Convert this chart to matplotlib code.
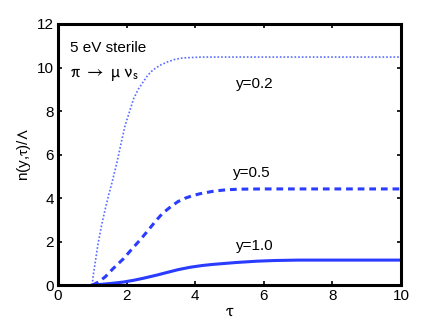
import numpy as np
import matplotlib
matplotlib.use("Agg")
import matplotlib.pyplot as plt

plt.rcParams['font.family'] = ['Liberation Sans', 'DejaVu Sans']
plt.rcParams['mathtext.fontset'] = 'stixsans'

# curves, tau vs n(y,tau)/Lambda
tau_02 = [1.0, 1.02, 1.1, 1.17, 1.27, 1.37, 1.47, 1.57, 1.65, 1.72, 1.85, 1.95, 2.08,
          2.2, 2.34, 2.48, 2.62, 2.77, 2.97, 3.18, 3.4, 3.64, 4.2, 10.0]
n_02 = [0.0, 0.37, 1.2, 1.93, 2.75, 3.45, 4.1, 4.69, 5.2, 5.65, 6.6, 7.3, 7.95,
        8.55, 9.0, 9.33, 9.65, 9.89, 10.1, 10.25, 10.37, 10.44, 10.48, 10.48]

tau_05 = [1.0, 1.15, 1.37, 1.6, 1.9, 2.15, 2.39, 2.62, 2.85, 3.05, 3.3, 3.5, 3.7,
          3.9, 4.14, 4.55, 4.9, 5.3, 6.0, 10.0]
n_05 = [0.0, 0.12, 0.37, 0.75, 1.2, 1.65, 2.07, 2.5, 2.95, 3.3, 3.62, 3.84, 3.99,
        4.1, 4.2, 4.32, 4.38, 4.41, 4.42, 4.42]

tau_10 = [1.0, 1.22, 1.5, 1.9, 2.2, 2.5, 2.88, 3.2, 3.5, 3.85, 4.2, 4.5, 4.81,
          5.2, 5.8, 6.3, 7.0, 10.0]
n_10 = [0.0, 0.03, 0.07, 0.14, 0.22, 0.32, 0.46, 0.59, 0.71, 0.82, 0.9, 0.95, 0.99,
        1.04, 1.1, 1.13, 1.15, 1.15]

labels = ['y=0.2', 'y=0.5', 'y=1.0']

fig = plt.figure(figsize=(4.43, 3.24), dpi=100)
ax = fig.add_axes([0.131, 0.12, 0.774, 0.806])

ax.plot(tau_02, n_02, linestyle=(0, (1, 1.2)), color='#5a6cff', lw=1.2)
ax.plot(tau_05, n_05, linestyle=(0, (2.2, 1.6)), color='#2a3cff', lw=2.2)
ax.plot(tau_10, n_10, linestyle='-', color='#2a3cff', lw=2.2)

ax.set_xlim(0, 10)
ax.set_ylim(0, 12)
ax.set_xticks(np.arange(0, 11, 2))
ax.set_yticks(np.arange(0, 13, 2))
ax.tick_params(direction='in', length=3, width=1.2, top=True, right=True,
               labelsize=11, pad=3)
for s in ax.spines.values():
    s.set_linewidth(2.2)

ax.set_xlabel(r'$\mathrm{\tau}$', fontsize=13, labelpad=0)
ax.set_ylabel(r'n(y,$\mathrm{\tau}$)/$\mathrm{\Lambda}$', fontsize=11, labelpad=3)

ax.text(0.35, 10.9, '5 eV sterile', fontsize=11, va='center')
ax.text(0.35, 9.7, r'$\mathrm{\pi \ \rightarrow\ \mu\ \nu_s}$', fontsize=13, va='center')
ax.text(5.2, 9.25, labels[0], fontsize=11, va='center')
ax.text(5.1, 5.15, labels[1], fontsize=11, va='center')
ax.text(5.2, 1.8, labels[2], fontsize=11, va='center')

fig.savefig('out.png', dpi=100)
